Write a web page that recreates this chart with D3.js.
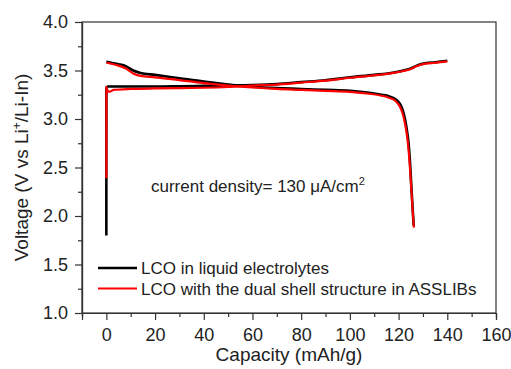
<!DOCTYPE html>
<html>
<head>
<meta charset="utf-8">
<script src="https://cdn.jsdelivr.net/npm/d3@7"></script>
<style>
  html, body { margin: 0; padding: 0; background: #fff; }
  svg { display: block; font-family: "Liberation Sans", Arial, sans-serif; }
</style>
</head>
<body>
<svg id="chart" width="511" height="369"></svg>
<script>
// Galvanostatic charge/discharge profiles (capacity in mAh/g, voltage in V)
const liquidChargeCap = [0, 0.01, 0.6, 2, 10, 20, 30, 40, 50, 60, 70, 80, 90, 100, 110, 118, 122, 125, 127, 129, 131, 135, 140];
const liquidChargeV   = [1.80, 3.32, 3.335, 3.335, 3.335, 3.335, 3.338, 3.342, 3.345, 3.35, 3.36, 3.38, 3.40, 3.43, 3.455, 3.48, 3.50, 3.52, 3.545, 3.565, 3.575, 3.585, 3.60];

const liquidDischargeCap = [0, 2, 5, 8, 11, 14, 20, 30, 40, 50, 55, 60, 70, 80, 90, 100, 108, 113, 116, 119, 120.6, 121.6, 122.7, 123.5, 124.1, 124.7, 125.1, 125.6, 126.2];
const liquidDischargeV   = [3.59, 3.58, 3.565, 3.545, 3.50, 3.475, 3.455, 3.42, 3.385, 3.355, 3.342, 3.332, 3.318, 3.31, 3.30, 3.29, 3.27, 3.25, 3.235, 3.20, 3.155, 3.10, 2.99, 2.87, 2.75, 2.55, 2.37, 2.15, 1.90];

const shellChargeCap = [0, 0.01, 0.4, 1.2, 3, 10, 20, 30, 40, 50, 60, 70, 80, 90, 100, 110, 118, 122, 125, 127, 129, 131, 135, 140];
const shellChargeV   = [2.39, 3.33, 3.30, 3.28, 3.30, 3.31, 3.315, 3.318, 3.322, 3.33, 3.345, 3.355, 3.375, 3.395, 3.425, 3.45, 3.475, 3.495, 3.515, 3.54, 3.56, 3.57, 3.58, 3.595];

const shellDischargeCap = [0, 2, 5, 8, 11, 14, 20, 30, 40, 50, 60, 70, 80, 90, 100, 108, 113, 116, 119, 120.5, 121.5, 122.5, 123.5, 124.2, 124.8, 125.3, 125.8, 126.3];
const shellDischargeV   = [3.58, 3.57, 3.55, 3.52, 3.47, 3.445, 3.43, 3.40, 3.37, 3.345, 3.325, 3.31, 3.30, 3.29, 3.28, 3.26, 3.24, 3.22, 3.18, 3.13, 3.07, 2.97, 2.82, 2.65, 2.45, 2.25, 2.05, 1.88];

const xTicks = [0, 20, 40, 60, 80, 100, 120, 140, 160];
const yTicks = [1.0, 1.5, 2.0, 2.5, 3.0, 3.5, 4.0];
const seriesNames = ["LCO in liquid electrolytes", "LCO with the dual shell structure in ASSLIBs"];
const seriesColors = ["#000000", "#ff0000"];

const svg = d3.select("#chart");
const m = { left: 82, right: 496, top: 22, bottom: 313 };

const x = d3.scaleLinear().domain([-10, 160]).range([m.left, m.right]);
const y = d3.scaleLinear().domain([1.0, 4.0]).range([m.bottom, m.top]);

const axisColor = "#333";

// frame
svg.append("rect")
  .attr("x", m.left).attr("y", m.top)
  .attr("width", m.right - m.left).attr("height", m.bottom - m.top)
  .attr("fill", "none").attr("stroke", axisColor).attr("stroke-width", 1.2);

// minor ticks
const xMinor = d3.range(-10, 161, 10).filter(v => !xTicks.includes(v));
const yMinor = d3.range(1.25, 4.0, 0.5);

const xAxis = svg.append("g").attr("transform", `translate(0,${m.bottom})`)
  .call(d3.axisBottom(x).tickValues(xTicks).tickSize(7).tickPadding(8).tickFormat(d3.format("d")));
const xAxisMinor = svg.append("g").attr("transform", `translate(0,${m.bottom})`)
  .call(d3.axisBottom(x).tickValues(xMinor).tickSize(4).tickFormat(""));
const yAxis = svg.append("g").attr("transform", `translate(${m.left},0)`)
  .call(d3.axisLeft(y).tickValues(yTicks).tickSize(7).tickPadding(7).tickFormat(d3.format(".1f")));
const yAxisMinor = svg.append("g").attr("transform", `translate(${m.left},0)`)
  .call(d3.axisLeft(y).tickValues(yMinor).tickSize(4).tickFormat(""));

[xAxis, xAxisMinor, yAxis, yAxisMinor].forEach(g => {
  g.select(".domain").attr("stroke", axisColor).attr("stroke-width", 1.2);
  g.selectAll(".tick line").attr("stroke", axisColor).attr("stroke-width", 1.2);
  g.selectAll(".tick text").attr("fill", "#222").style("font-size", "18px")
    .style("font-family", "'Liberation Sans', Arial, sans-serif");
});

// curves (capacity increases monotonically along every branch)
const line = d3.line()
  .x(d => x(d[0])).y(d => y(d[1]))
  .curve(d3.curveMonotoneX);

const curves = [
  { cap: liquidChargeCap, v: liquidChargeV, s: 0 },
  { cap: liquidDischargeCap, v: liquidDischargeV, s: 0 },
  { cap: shellChargeCap, v: shellChargeV, s: 1 },
  { cap: shellDischargeCap, v: shellDischargeV, s: 1 }
];

svg.append("g").selectAll("path")
  .data(curves)
  .join("path")
  .attr("d", c => line(c.cap.map((cv, i) => [cv, c.v[i]])))
  .attr("fill", "none")
  .attr("stroke", c => seriesColors[c.s])
  .attr("stroke-width", c => c.s === 0 ? 2.6 : 2.2)
  .attr("stroke-linejoin", "round")
  .attr("stroke-linecap", "butt");

// annotation
const note = svg.append("text")
  .attr("x", 151).attr("y", 192)
  .style("font-size", "17px").attr("fill", "#222");
note.append("tspan").text("current density= 130 μA/cm");
note.append("tspan").text("2").attr("dy", -7).style("font-size", "11px");

// legend
const legend = svg.append("g");
seriesNames.forEach((name, i) => {
  const ly = 268 + i * 20.5;
  legend.append("line")
    .attr("x1", 98).attr("x2", 137).attr("y1", ly).attr("y2", ly)
    .attr("stroke", seriesColors[i]).attr("stroke-width", i === 0 ? 2.6 : 2.2);
  legend.append("text")
    .attr("x", 141).attr("y", ly + 6)
    .style("font-size", "17px").attr("fill", "#222")
    .text(name);
});

// axis titles
svg.append("text")
  .attr("x", (m.left + m.right) / 2).attr("y", 361)
  .attr("text-anchor", "middle")
  .style("font-size", "19px").attr("fill", "#222")
  .text("Capacity (mAh/g)");

const yTitle = svg.append("text")
  .attr("transform", `translate(28,${(m.top + m.bottom) / 2}) rotate(-90)`)
  .attr("text-anchor", "middle")
  .style("font-size", "19px").attr("fill", "#222");
yTitle.append("tspan").text("Voltage (V vs Li");
yTitle.append("tspan").text("+").attr("dy", -7).style("font-size", "12px");
yTitle.append("tspan").text("/Li-In)").attr("dy", 7);
</script>
</body>
</html>
